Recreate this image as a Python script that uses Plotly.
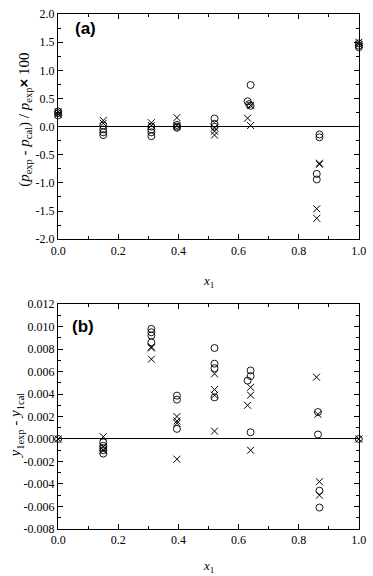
import plotly.graph_objects as go

# ---------------- data: panel (a) ----------------
a_circ_x = [0.0, 0.0, 0.0, 0.15, 0.15, 0.15, 0.15, 0.31, 0.31, 0.31, 0.31,
            0.395, 0.395, 0.395, 0.52, 0.52, 0.52, 0.64, 0.63, 0.635, 0.64,
            0.869, 0.869, 0.86, 0.86, 1.0, 1.0, 1.0]
a_circ_y = [0.20, 0.24, 0.27, 0.02, -0.05, -0.10, -0.15, 0.00, -0.05, -0.10, -0.17,
            0.03, 0.00, -0.02, 0.145, 0.05, 0.00, 0.74, 0.45, 0.40, 0.37,
            -0.14, -0.19, -0.84, -0.94, 1.41, 1.44, 1.48]
a_x_x = [0.0, 0.0, 0.15, 0.15, 0.31, 0.31, 0.395, 0.395,
         0.52, 0.52, 0.52, 0.64, 0.63, 0.64, 0.869, 0.869, 0.86, 0.86, 1.0, 1.0]
a_x_y = [0.22, 0.26, 0.11, 0.06, 0.07, 0.02, 0.16, 0.02,
         -0.02, -0.08, -0.15, 0.38, 0.15, 0.02, -0.65, -0.67, -1.46, -1.63, 1.50, 1.46]

# ---------------- data: panel (b) ----------------
b_circ_x = [0.0, 0.15, 0.15, 0.15, 0.15, 0.15, 0.31, 0.31, 0.31, 0.31,
            0.395, 0.395, 0.395, 0.52, 0.52, 0.52, 0.52,
            0.64, 0.64, 0.63, 0.64, 0.864, 0.864, 0.869, 0.869, 1.0]
b_circ_y = [0.0, -0.0003, -0.0006, -0.0008, -0.0010, -0.0013, 0.0098, 0.0095, 0.0092, 0.0086,
            0.00386, 0.0035, 0.0009, 0.0081, 0.0067, 0.0063, 0.0037,
            0.0061, 0.0056, 0.0052, 0.0006, 0.0024, 0.0004, -0.0046, -0.0061, 0.0]
b_x_x = [0.0, 0.15, 0.15, 0.15, 0.31, 0.31, 0.31, 0.395, 0.395, 0.395, 0.395,
         0.52, 0.52, 0.52, 0.52, 0.64, 0.64, 0.63, 0.64, 0.859, 0.864, 0.869, 0.869, 1.0]
b_x_y = [0.0, 0.0002, -0.0007, -0.0010, 0.0082, 0.0081, 0.0071, 0.0020, 0.0016, 0.0014, -0.0018,
         0.0058, 0.0044, 0.0039, 0.0007, 0.0046, 0.0039, 0.0030, -0.0010, 0.0055, 0.0022, -0.0038, -0.0050, 0.0]

# ---------------- tick labels ----------------
x_ticks = [0.0, 0.2, 0.4, 0.6, 0.8, 1.0]
x_ticktext = ["0.0", "0.2", "0.4", "0.6", "0.8", "1.0"]
a_yticks = [2.0, 1.5, 1.0, 0.5, 0.0, -0.5, -1.0, -1.5, -2.0]
a_ytext = ["2.0", "1.5", "1.0", "0.5", "0.0", "-0.5", "-1.0", "-1.5", "-2.0"]
b_yticks = [0.012, 0.010, 0.008, 0.006, 0.004, 0.002, 0.0, -0.002, -0.004, -0.006, -0.008]
b_ytext = ["0.012", "0.010", "0.008", "0.006", "0.004", "0.002", "0.000",
           "-0.002", "-0.004", "-0.006", "-0.008"]

SERIF = "Liberation Serif"
fig = go.Figure()

circ = dict(symbol="circle-open", size=7, color="black", line=dict(width=0.9, color="black"))
cross = dict(symbol="x-thin-open", size=7, color="black", line=dict(width=1.0, color="black"))

fig.add_trace(go.Scatter(x=a_circ_x, y=a_circ_y, mode="markers", marker=circ,
                         xaxis="x", yaxis="y", cliponaxis=False, showlegend=False))
fig.add_trace(go.Scatter(x=a_x_x, y=a_x_y, mode="markers", marker=cross,
                         xaxis="x", yaxis="y", cliponaxis=False, showlegend=False))
fig.add_trace(go.Scatter(x=b_circ_x, y=b_circ_y, mode="markers", marker=circ,
                         xaxis="x2", yaxis="y2", cliponaxis=False, showlegend=False))
fig.add_trace(go.Scatter(x=b_x_x, y=b_x_y, mode="markers", marker=cross,
                         xaxis="x2", yaxis="y2", cliponaxis=False, showlegend=False))

axcommon = dict(showline=True, linecolor="black", linewidth=1, mirror="ticks",
                ticks="inside", ticklen=5, tickwidth=1, tickcolor="black",
                showgrid=False, tickfont=dict(family=SERIF, size=12, color="black"))

xax = dict(axcommon, range=[-0.0005, 1.0005], tickmode="array", tickvals=x_ticks,
           ticktext=x_ticktext, zeroline=False,
           minor=dict(ticks="inside", ticklen=3, tickwidth=1, tickcolor="black", dtick=0.1,
                      showgrid=False))

fig.update_layout(
    width=373, height=576,
    margin=dict(l=58, r=7, t=7, b=47),
    font=dict(family=SERIF, size=12, color="black"),
    plot_bgcolor="white", paper_bgcolor="white",
    xaxis=dict(xax, domain=[0, 1], anchor="y"),
    yaxis=dict(axcommon, domain=[0.5626, 1.0], anchor="x", range=[-2.002, 2.002],
               tickmode="array", tickvals=a_yticks, ticktext=a_ytext,
               zeroline=True, zerolinecolor="black", zerolinewidth=1.3,
               minor=dict(ticks="inside", ticklen=3, tickwidth=1, tickcolor="black",
                          dtick=0.25, showgrid=False)),
    xaxis2=dict(xax, domain=[0, 1], anchor="y2"),
    yaxis2=dict(axcommon, domain=[0.0, 0.4368], anchor="x2", range=[-0.00801, 0.01201],
                tickmode="array", tickvals=b_yticks, ticktext=b_ytext,
                zeroline=True, zerolinecolor="black", zerolinewidth=1.3,
                minor=dict(ticks="inside", ticklen=3, tickwidth=1, tickcolor="black",
                           dtick=0.001, showgrid=False)),
)

ann_font = dict(family=SERIF, size=13, color="black")
fig.add_annotation(xref="x domain", yref="y domain", x=0.5, y=0, yshift=-42,
                   text="<i>x</i><sub>1</sub>", showarrow=False, font=ann_font,
                   xanchor="center", yanchor="middle")
fig.add_annotation(xref="x2 domain", yref="y2 domain", x=0.5, y=0, yshift=-37,
                   text="<i>x</i><sub>1</sub>", showarrow=False, font=ann_font,
                   xanchor="center", yanchor="middle")
fig.add_annotation(xref="x domain", yref="y domain", x=0, y=0.53, xshift=-33,
                   text="(<i>p</i><sub>exp</sub> - <i>p</i><sub>cal</sub>) / <i>p</i><sub>exp</sub>"
                        "<span style='font-family:Liberation Sans'><b>×</b></span> 100",
                   showarrow=False, textangle=-90, font=dict(family=SERIF, size=15, color="black"),
                   xanchor="center", yanchor="middle")
fig.add_annotation(xref="x2 domain", yref="y2 domain", x=0, y=0.46, xshift=-42,
                   text="<i>y</i><sub>1exp</sub> - <i>y</i><sub>1cal</sub>",
                   showarrow=False, textangle=-90, font=dict(family=SERIF, size=15, color="black"),
                   xanchor="center", yanchor="middle")
fig.add_annotation(xref="x domain", yref="y domain", x=0.05, y=0.935,
                   text="<b>(a)</b>", showarrow=False,
                   font=dict(family="Liberation Sans", size=17, color="black"),
                   xanchor="left", yanchor="middle")
fig.add_annotation(xref="x2 domain", yref="y2 domain", x=0.04, y=0.9,
                   text="<b>(b)</b>", showarrow=False,
                   font=dict(family="Liberation Sans", size=17, color="black"),
                   xanchor="left", yanchor="middle")

fig.write_html("out.html", config={"displayModeBar": False},
               post_script="document.body.style.margin='0';")
